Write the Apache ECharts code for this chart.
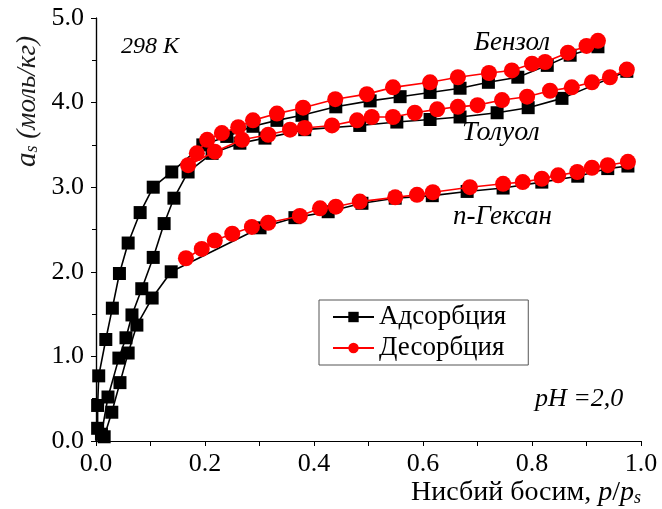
<!DOCTYPE html>
<html>
<head>
<meta charset="utf-8">
<script src="https://cdn.jsdelivr.net/npm/echarts@6/dist/echarts.min.js"></script>
<style>html,body{margin:0;padding:0;background:#fff}#c{width:662px;height:509px}</style>
</head>
<body>
<div id="c"></div>
<script>
const xTicks = [0, 0.2, 0.4, 0.6, 0.8, 1.0];
const yTicks = [0, 1, 2, 3, 4, 5];

const benzeneAds = [[0.003,0.15],[0.003,0.42],[0.005,0.77],[0.018,1.2],[0.03,1.57],[0.043,1.98],[0.059,2.34],[0.081,2.70],[0.105,3.00],[0.139,3.18],[0.196,3.50],[0.24,3.60],[0.288,3.72],[0.332,3.79],[0.378,3.85],[0.44,3.95],[0.503,4.02],[0.558,4.07],[0.613,4.12],[0.668,4.17],[0.72,4.24],[0.774,4.30],[0.828,4.44],[0.87,4.56],[0.921,4.66]];
const tolueneAds = [[0.01,0.08],[0.022,0.52],[0.042,0.98],[0.055,1.22],[0.066,1.49],[0.084,1.80],[0.105,2.17],[0.125,2.57],[0.143,2.87],[0.169,3.18],[0.213,3.40],[0.264,3.52],[0.31,3.58],[0.383,3.68],[0.484,3.73],[0.552,3.77],[0.613,3.80],[0.668,3.83],[0.736,3.88],[0.793,3.94],[0.855,4.05],[0.974,4.37]];
const hexaneAds = [[0.015,0.05],[0.029,0.34],[0.044,0.69],[0.059,1.04],[0.075,1.37],[0.103,1.69],[0.138,2.0],[0.301,2.52],[0.365,2.64],[0.426,2.71],[0.488,2.81],[0.549,2.87],[0.617,2.90],[0.681,2.95],[0.747,2.99],[0.818,3.06],[0.884,3.13],[0.939,3.22],[0.976,3.25]];

const benzeneDes = [[0.185,3.40],[0.204,3.56],[0.231,3.64],[0.261,3.71],[0.288,3.79],[0.332,3.87],[0.38,3.94],[0.439,4.04],[0.497,4.10],[0.545,4.18],[0.613,4.24],[0.664,4.30],[0.721,4.35],[0.763,4.38],[0.80,4.46],[0.824,4.48],[0.866,4.59],[0.90,4.67],[0.921,4.73]];
const tolueneDes = [[0.169,3.26],[0.218,3.42],[0.268,3.56],[0.316,3.62],[0.356,3.68],[0.383,3.70],[0.433,3.73],[0.479,3.79],[0.506,3.83],[0.545,3.83],[0.585,3.88],[0.626,3.92],[0.664,3.95],[0.70,3.97],[0.745,4.03],[0.791,4.07],[0.833,4.14],[0.873,4.18],[0.91,4.24],[0.943,4.30],[0.974,4.39]];
const hexaneDes = [[0.165,2.16],[0.194,2.27],[0.218,2.37],[0.25,2.45],[0.286,2.53],[0.316,2.58],[0.374,2.66],[0.411,2.75],[0.44,2.77],[0.484,2.83],[0.549,2.88],[0.589,2.91],[0.618,2.94],[0.686,3.00],[0.747,3.04],[0.783,3.06],[0.818,3.10],[0.848,3.14],[0.883,3.18],[0.91,3.23],[0.939,3.26],[0.976,3.30]];

const seriesNames = ['Адсорбция', 'Десорбция'];
const curveLabels = ['Бензол', 'Толуол', 'n-Гексан'];

const F = '"Liberation Serif", "DejaVu Serif", serif';
const chart = echarts.init(document.getElementById('c'));

function ads(d){
  return {name: seriesNames[0], type:'line', data:d, symbol:'rect', symbolSize:13,
    itemStyle:{color:'#000'}, lineStyle:{color:'#000', width:1.6}, z:2, animation:false};
}
function des(d){
  return {name: seriesNames[1], type:'line', data:d, symbol:'circle', symbolSize:16,
    itemStyle:{color:'#ff0000'}, lineStyle:{color:'#ff0000', width:1.6}, z:3, animation:false};
}

chart.setOption({
  animation:false,
  grid:{left:96, right:21, top:18, bottom:68},
  xAxis:[{
    type:'value', min:xTicks[0], max:xTicks[xTicks.length-1], interval:0.2,
    axisLine:{lineStyle:{color:'#000', width:1.2}},
    axisTick:{show:true, length:5, inside:false, lineStyle:{color:'#000'}},
    minorTick:{show:true, splitNumber:2, length:4, lineStyle:{color:'#000'}},
    splitLine:{show:false},
    axisLabel:{color:'#000', fontFamily:F, fontSize:26, margin:10, formatter:v=>v.toFixed(1)},
    name:'{n|Нисбий босим, }{i|p}{n|/}{i|p}{s|s}', nameLocation:'end', nameGap:0,
    nameTextStyle:{align:'right', verticalAlign:'top', padding:[37,0,0,0],
      rich:{n:{fontFamily:F, fontSize:28, color:'#000'}, i:{fontFamily:F, fontSize:28, fontStyle:'italic', color:'#000'}, s:{fontFamily:F, fontSize:18, fontStyle:'italic', color:'#000', padding:[11,0,0,0]}}}
  },{
    type:'value', position:'top', min:0, max:1, interval:0.2,
    axisLine:{show:true, lineStyle:{color:'#000', width:1.2}},
    axisTick:{show:true, inside:true, length:5, lineStyle:{color:'#000'}},
    minorTick:{show:true, splitNumber:2, length:5, lineStyle:{color:'#000'}},
    axisLabel:{show:false}, splitLine:{show:false}
  }],
  yAxis:[{
    type:'value', min:yTicks[0], max:yTicks[yTicks.length-1], interval:1,
    axisLine:{show:true, lineStyle:{color:'#000', width:1.2}},
    axisTick:{show:true, length:5, inside:false, lineStyle:{color:'#000'}},
    minorTick:{show:true, splitNumber:2, length:4, lineStyle:{color:'#000'}},
    splitLine:{show:false},
    axisLabel:{color:'#000', fontFamily:F, fontSize:26, margin:12, formatter:v=>v.toFixed(1)},
    name:'{i|a}{s|s}{n| (моль/кг)}', nameLocation:'end', nameRotate:90, nameGap:0,
    nameTextStyle:{align:'right', verticalAlign:'bottom', padding:[0,18,54,0],
      rich:{i:{fontFamily:F, fontSize:29, fontStyle:'italic', color:'#1a1a1a'}, n:{fontFamily:F, fontSize:27, fontStyle:'italic', color:'#1a1a1a'}, s:{fontFamily:F, fontSize:18, fontStyle:'italic', color:'#1a1a1a', padding:[10,0,0,0]}}}
  },{
    type:'value', position:'right', min:0, max:5, interval:1,
    axisLine:{show:true, lineStyle:{color:'#000', width:1.2}},
    axisTick:{show:false}, axisLabel:{show:false}, splitLine:{show:false}
  }],
  legend:{
    data:seriesNames, left:319, top:300, orient:'vertical', itemGap:1,
    itemWidth:41, itemHeight:13, padding:[2,22,2,13],
    borderColor:'#555', borderWidth:1,
    textStyle:{fontFamily:F, fontSize:27, color:'#000', lineHeight:30}
  },
  graphic:[
    {type:'text', left:121, top:35, style:{text:'298 K', font:'italic 24px "Liberation Serif"', fill:'#000'}},
    {type:'text', left:474, top:29, style:{text:curveLabels[0], font:'italic 27px "Liberation Serif"', fill:'#000'}},
    {type:'text', left:462, top:119, style:{text:curveLabels[1], font:'italic 28px "Liberation Serif"', fill:'#000'}},
    {type:'text', left:453, top:203, style:{text:curveLabels[2], font:'italic 27px "Liberation Serif"', fill:'#000'}},
    {type:'text', left:535, top:386, style:{text:'pH =2,0', font:'italic 26px "Liberation Serif"', fill:'#000'}}
  ],
  series:[ads(benzeneAds), ads(tolueneAds), ads(hexaneAds), des(benzeneDes), des(tolueneDes), des(hexaneDes)]
});
</script>
</body>
</html>
